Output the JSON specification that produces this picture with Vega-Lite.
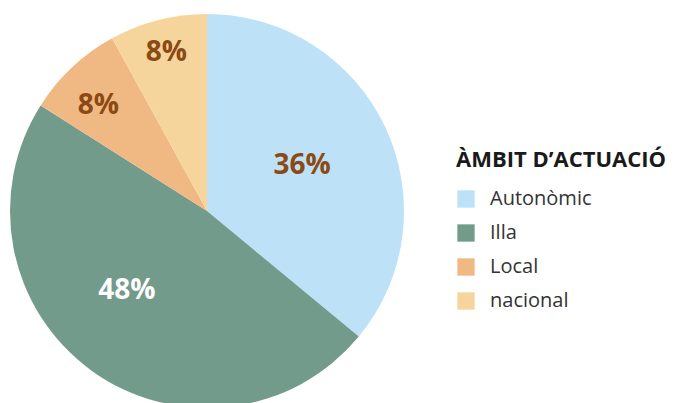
{
  "$schema": "https://vega.github.io/schema/vega-lite/v6.json",
  "width": 414,
  "height": 422,
  "padding": 0,
  "background": "white",
  "config": {"view": {"stroke": null}, "font": "Open Sans"},
  "data": {"values": [
    {"category": "Autonòmic", "value": 36, "label": "36%"},
    {"category": "Illa", "value": 48, "label": "48%"},
    {"category": "Local", "value": 8, "label": "8%"},
    {"category": "nacional", "value": 8, "label": "8%"}
  ]},
  "encoding": {
    "theta": {"field": "value", "type": "quantitative", "stack": true}
  },
  "layer": [
    {
      "mark": {"type": "arc", "radius": 197},
      "encoding": {
        "color": {
          "field": "category", "type": "nominal",
          "scale": {"domain": ["Autonòmic", "Illa", "Local", "nacional"], "range": ["#bde2f8", "#729b8b", "#f0b883", "#f5d59b"]},
          "legend": {
            "title": "ÀMBIT D’ACTUACIÓ",
            "orient": "none", "legendX": 456, "legendY": 150,
            "titleFontSize": 22, "titleFontWeight": "bold", "titleColor": "#1a1a1a", "titleFont": "Open Sans",
            "titleLimit": 0, "titlePadding": 17,
            "labelFontSize": 20, "labelColor": "#333333", "labelFont": "Open Sans", "labelLimit": 0,
            "symbolType": "square", "symbolSize": 300, "symbolStrokeWidth": 0,
            "labelOffset": 14, "rowPadding": 14
          }
        }
      }
    },
    {
      "mark": {"type": "text", "radius": 105, "fontSize": 28, "fontWeight": "bold", "fill": "#8b4a14", "font": "Open Sans"},
      "encoding": {
        "detail": {"field": "category", "type": "nominal"},
        "text": {"condition": {"test": "datum.category === 'Autonòmic'", "field": "label"}, "value": ""}
      }
    },
    {
      "mark": {"type": "text", "radius": 113, "thetaOffset": 0.16, "fontSize": 28, "fontWeight": "bold", "fill": "white", "font": "Open Sans"},
      "encoding": {
        "detail": {"field": "category", "type": "nominal"},
        "text": {"condition": {"test": "datum.category === 'Illa'", "field": "label"}, "value": ""}
      }
    },
    {
      "mark": {"type": "text", "radius": 151, "thetaOffset": -0.05, "fontSize": 28, "fontWeight": "bold", "fill": "#8b4a14", "font": "Open Sans"},
      "encoding": {
        "detail": {"field": "category", "type": "nominal"},
        "text": {"condition": {"test": "datum.category === 'Local'", "field": "label"}, "value": ""}
      }
    },
    {
      "mark": {"type": "text", "radius": 163, "fontSize": 28, "fontWeight": "bold", "fill": "#8b4a14", "font": "Open Sans"},
      "encoding": {
        "detail": {"field": "category", "type": "nominal"},
        "text": {"condition": {"test": "datum.category === 'nacional'", "field": "label"}, "value": ""}
      }
    }
  ]
}
